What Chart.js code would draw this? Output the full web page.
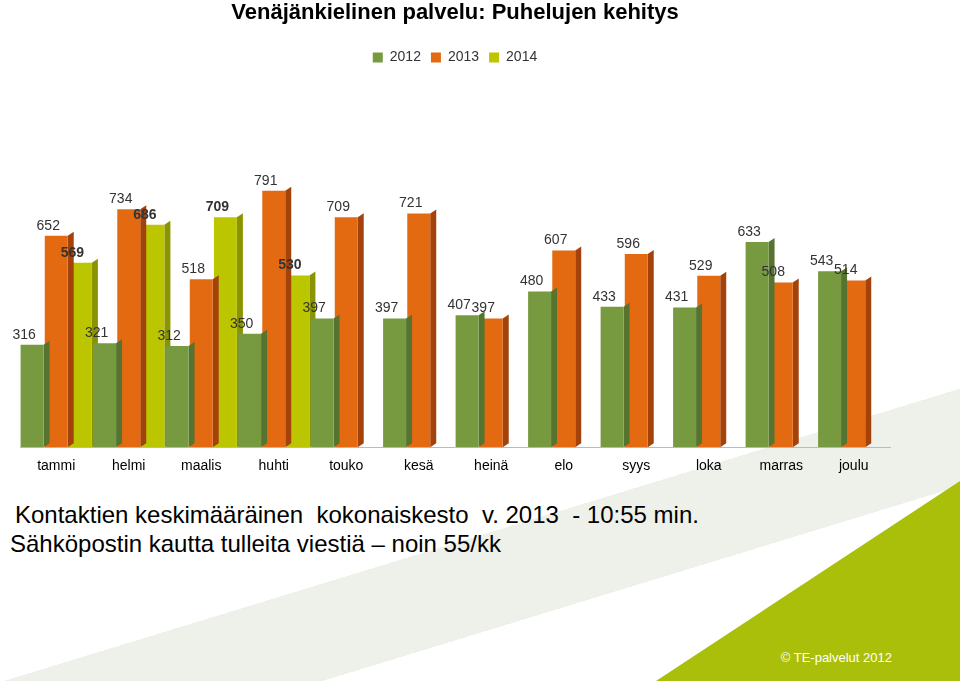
<!DOCTYPE html>
<html><head><meta charset="utf-8">
<script src="https://cdn.jsdelivr.net/npm/chart.js@4"></script>
<style>
body{margin:0;width:960px;height:681px;overflow:hidden;background:#fff;font-family:"Liberation Sans",Arial,sans-serif;position:relative}
#bg{position:absolute;left:0;top:0;width:960px;height:681px;background:linear-gradient(163deg,transparent 0 70%,#eef0ea 70% 80%,transparent 80%)}
#wedge{position:absolute;right:0;bottom:0;width:380px;height:200px;background:#a9bf0a;clip-path:polygon(100% 0,100% 100%,20% 100%)}
#wrap{position:absolute;left:0;top:0;width:960px;height:480px}
.t{position:absolute;left:15px;font-size:24px;color:#000}
#foot{position:absolute;right:68px;bottom:16px;color:#fff;font-size:13px}
</style></head><body>
<div id="bg"></div><div id="wedge"></div>
<div id="wrap"><canvas id="c" width="960" height="478"></canvas></div>
<div class="t" style="top:501px">Kontaktien keskimääräinen &nbsp;kokonaiskesto &nbsp;v. 2013 &nbsp;- 10:55 min.</div>
<div class="t" style="top:530px;left:10px">Sähköpostin kautta tulleita viestiä – noin 55/kk</div>
<div id="foot">© TE-palvelut 2012</div>
<script>
const months=["tammi","helmi","maalis","huhti","touko","kesä","heinä","elo","syys","loka","marras","joulu"];
const y2012=[316,321,312,350,397,397,407,480,433,431,633,543];
const y2013=[652,734,518,791,709,721,397,607,596,529,508,514];
const y2014=[569,686,709,530,null,null,null,null,null,null,null,null];

const labelPlugin={id:"lbl",afterDatasetsDraw(chart){
  const ctx=chart.ctx;ctx.save();ctx.fillStyle="#333";ctx.textAlign="center";
  chart.data.datasets.forEach((ds,i)=>{
    chart.getDatasetMeta(i).data.forEach((b,j)=>{
      if(ds.data[j]==null)return;
      ctx.font=(i==2?"bold ":"")+"14px 'Liberation Sans',Arial";
      ctx.fillText(ds.data[j],b.x-8,b.y-10);
    });
  });
  ctx.restore();
}};
const sidePlugin={id:"side",beforeDatasetDraw(chart,args){
  const ctx=chart.ctx,meta=args.meta,col=["#56732f","#a3420a","#8a9400"][args.index];
  ctx.save();ctx.fillStyle=col;
  meta.data.forEach((b,j)=>{
    if(chart.data.datasets[args.index].data[j]==null)return;
    const w=b.width/2;ctx.beginPath();
    ctx.moveTo(b.x+w,b.y);ctx.lineTo(b.x+w+6,b.y-4);ctx.lineTo(b.x+w+6,b.base-4);ctx.lineTo(b.x+w,b.base);ctx.fill();
  });
  ctx.restore();
}};
new Chart(document.getElementById("c"),{
  type:"bar",
  data:{labels:months,datasets:[
    {label:"2012",data:y2012,backgroundColor:"#77993f",order:1},
    {label:"2013",data:y2013,backgroundColor:"#e46a12",order:2},
    {label:"2014",data:y2014,backgroundColor:"#bcc600",order:3}
  ]},
  options:{responsive:false,animation:false,devicePixelRatio:1,
    layout:{padding:{left:20,right:70,top:0,bottom:0}},
    datasets:{bar:{barPercentage:0.95,categoryPercentage:1.0}},
    plugins:{
      title:{display:true,text:"Venäjänkielinen palvelu: Puhelujen kehitys",font:{size:22,weight:"bold",family:"Liberation Sans"},color:"#000",padding:{top:0,bottom:14}},
      legend:{labels:{boxWidth:10,boxHeight:10,font:{size:14},color:"#333"}},
      tooltip:{enabled:false}
    },
    scales:{
      x:{grid:{display:false},border:{color:"#bbb"},ticks:{color:"#000",font:{size:14},maxRotation:0,autoSkip:false}},
      y:{display:false,min:0,max:1150}
    }
  },
  plugins:[labelPlugin,sidePlugin]
});
</script>
</body></html>
